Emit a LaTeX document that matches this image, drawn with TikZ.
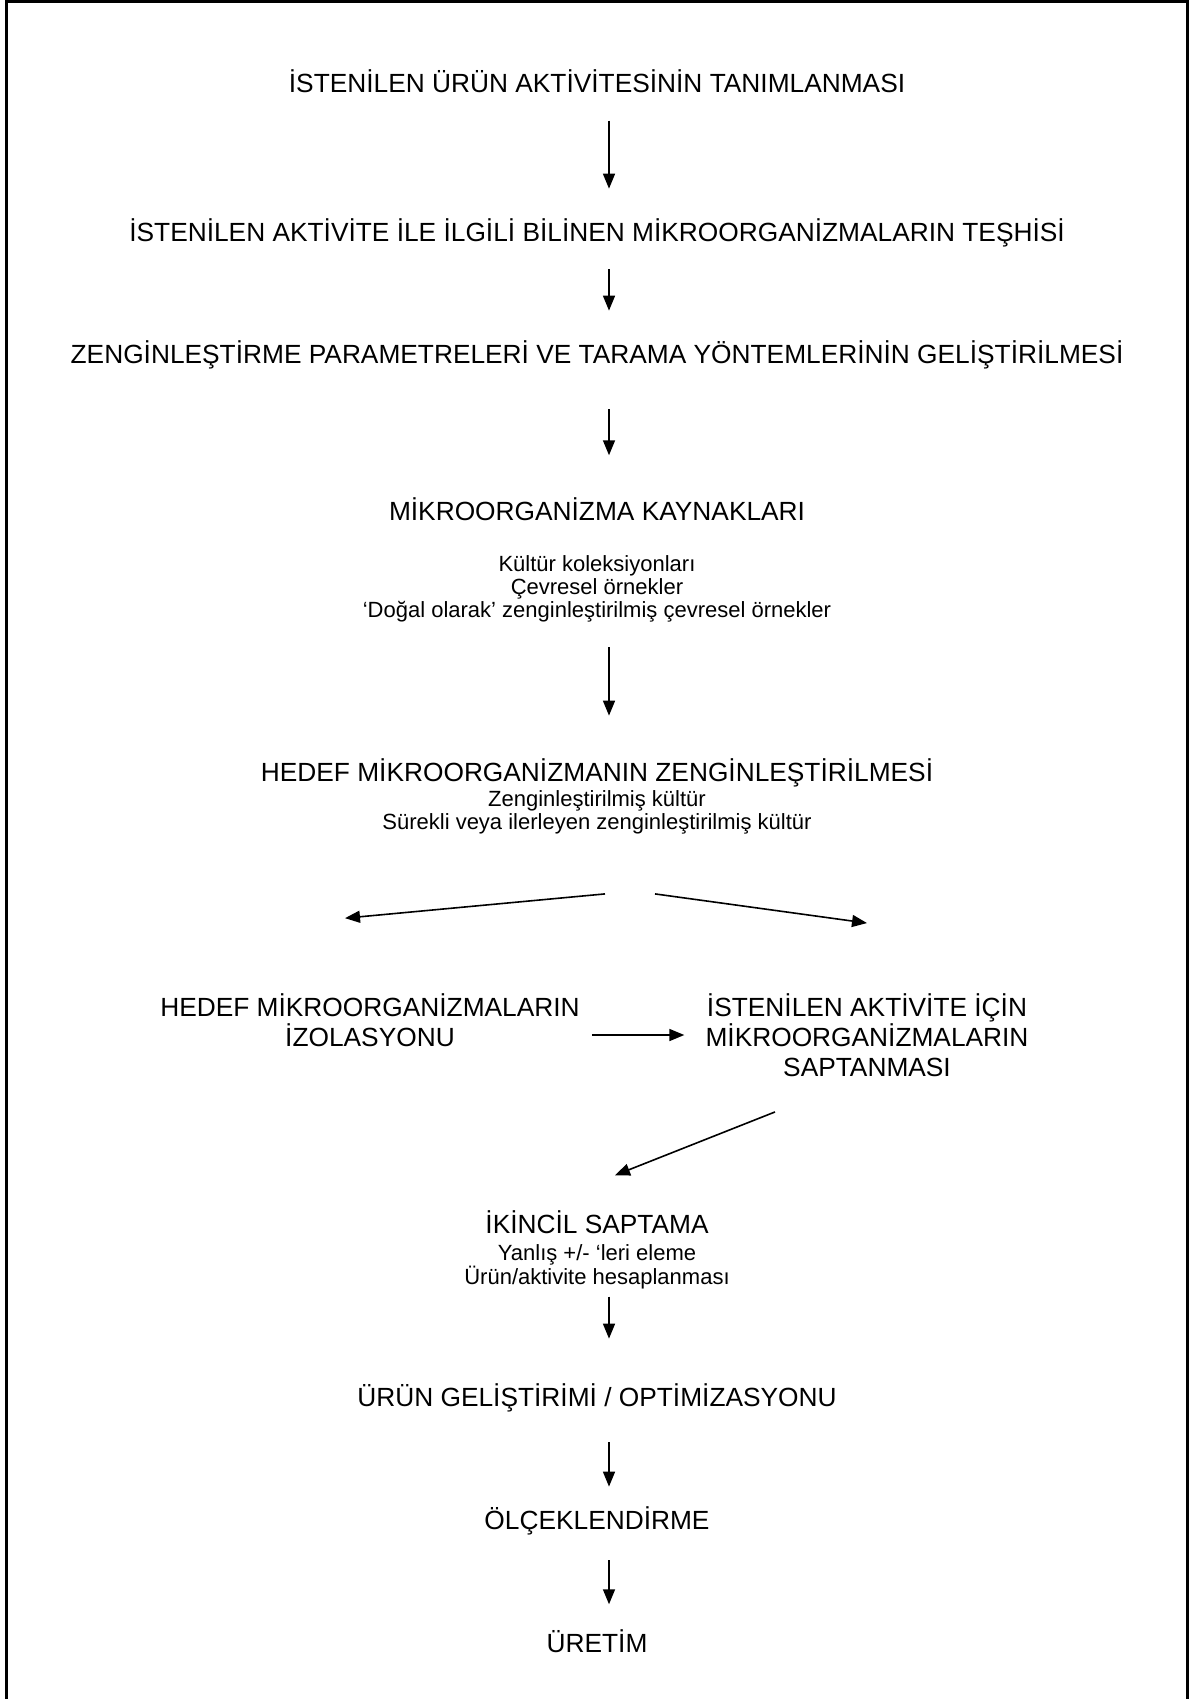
\documentclass[tikz,border=0pt]{standalone}
\usepackage{fontspec}
\setmainfont{Liberation Sans}
\usepackage{tikz}
\usetikzlibrary{arrows.meta, positioning}

\begin{document}
\begin{tikzpicture}[
    x=1pt, y=-1pt,
    >={Triangle[length=15pt,width=12pt]},
    head/.style={font=\fontsize{26.3}{30.2}\selectfont, inner sep=0pt, align=center},
    sub/.style={font=\fontsize{22}{22.8}\selectfont, inner sep=0pt, align=center},
    arr/.style={->, line width=1.6pt}
]
\useasboundingbox (0,0) rectangle (1194,1699);

% Frame
\draw[line width=3pt] (6,1699) -- (6,1.5) -- (1187,1.5) -- (1187,1699);

% Nodes
\node[head] (tanim)  at (597,81)  {İSTENİLEN ÜRÜN AKTİVİTESİNİN TANIMLANMASI};
\node[head] (teshis) at (597,233) {İSTENİLEN AKTİVİTE İLE İLGİLİ BİLİNEN MİKROORGANİZMALARIN TEŞHİSİ};
\node[head] (param)  at (597,355) {ZENGİNLEŞTİRME PARAMETRELERİ VE TARAMA YÖNTEMLERİNİN GELİŞTİRİLMESİ};
\node[head] (kaynak) at (597,509) {MİKROORGANİZMA KAYNAKLARI};
\node[sub]  (kaynaklist) at (597,589) {Kültür koleksiyonları\\Çevresel örnekler\\‘Doğal olarak’ zenginleştirilmiş çevresel örnekler};
\node[head] (zengin) at (597,773) {HEDEF MİKROORGANİZMANIN ZENGİNLEŞTİRİLMESİ};
\node[sub]  (zenginlist) at (597,812) {Zenginleştirilmiş kültür\\Sürekli veya ilerleyen zenginleştirilmiş kültür};
\node[head] (izol)   at (370,1020) {HEDEF MİKROORGANİZMALARIN\\İZOLASYONU};
\node[head] (sapta)  at (867,1035) {İSTENİLEN AKTİVİTE İÇİN\\MİKROORGANİZMALARIN\\SAPTANMASI};
\node[head] (ikinci) at (597,1222) {İKİNCİL SAPTAMA};
\node[sub]  (ikincilist) at (597,1267) {Yanlış +/- ‘leri eleme\\Ürün/aktivite hesaplanması};
\node[head] (optim)  at (597,1398) {ÜRÜN GELİŞTİRİMİ / OPTİMİZASYONU};
\node[head] (olcek)  at (597,1521) {ÖLÇEKLENDİRME};
\node[head] (uretim) at (597,1641) {ÜRETİM};

% Arrows
\draw[arr] ([xshift=12pt,yshift=-28pt]tanim.south) -- ([xshift=12pt,yshift=30pt]teshis.north);
\draw[arr] ([xshift=12pt,yshift=-22pt]teshis.south) -- ([xshift=12pt,yshift=30pt]param.north);
\draw[arr] ([xshift=12pt,yshift=-40pt]param.south) -- ([xshift=12pt,yshift=42pt]kaynak.north);
\draw[arr] ([xshift=12pt,yshift=-25pt]kaynaklist.south) -- ([xshift=12pt,yshift=43pt]zengin.north);
\draw[arr] ([xshift=8pt,yshift=-60pt]zenginlist.south) -- ([xshift=-25pt,yshift=75pt]izol.north);
\draw[arr] ([xshift=58pt,yshift=-60pt]zenginlist.south) -- ([xshift=0pt,yshift=70pt]sapta.north);
\draw[arr, shorten <=12pt, shorten >=21pt] (izol.east |- sapta.west) -- (sapta.west);
\draw[arr] ([xshift=-92pt,yshift=-35pt]sapta.south) -- ([xshift=18pt,yshift=35pt]ikinci.north);
\draw[arr] ([xshift=12pt,yshift=-7pt]ikincilist.south) -- ([xshift=12pt,yshift=45pt]optim.north);
\draw[arr] ([xshift=12pt,yshift=-30pt]optim.south) -- ([xshift=12pt,yshift=20pt]olcek.north);
\draw[arr] ([xshift=12pt,yshift=-25pt]olcek.south) -- ([xshift=12pt,yshift=25pt]uretim.north);

\end{tikzpicture}
\end{document}
